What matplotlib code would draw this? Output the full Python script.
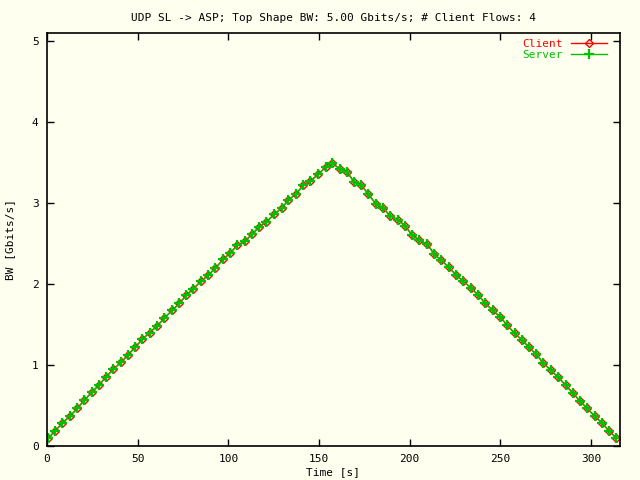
import numpy as np
import matplotlib
matplotlib.use("Agg")
import matplotlib.pyplot as plt

# time [s] and bandwidth [Gbits/s]
time_s = [0.7, 4.4, 8.4, 12.7, 16.7, 20.6, 24.7, 28.7, 32.5, 36.6,
          40.8, 44.8, 48.7, 52.6, 56.6, 60.8, 64.7, 69.1, 73.0, 76.8,
          80.7, 84.9, 88.9, 92.8, 97.2, 100.9, 105.0, 109.4, 113.2, 117.1,
          121.0, 125.4, 129.4, 133.1, 137.4, 141.4, 145.1, 149.6, 153.6, 157.4,
          161.7, 165.6, 169.5, 173.4, 177.2, 181.5, 185.5, 189.4, 193.8, 197.6,
          201.5, 205.4, 209.8, 213.6, 217.5, 221.6, 225.8, 229.6, 234.0, 237.9,
          241.8, 245.7, 250.0, 253.8, 257.9, 262.1, 265.9, 269.8, 273.7, 277.9,
          281.9, 286.0, 290.2, 294.0, 297.9, 302.1, 306.3, 310.2, 314.0]
client_bw = [0.095, 0.185, 0.280, 0.370, 0.465, 0.564, 0.664, 0.752, 0.851, 0.946,
             1.033, 1.126, 1.221, 1.316, 1.400, 1.480, 1.579, 1.674, 1.761, 1.859,
             1.937, 2.032, 2.106, 2.193, 2.304, 2.378, 2.477, 2.530, 2.616, 2.707,
             2.765, 2.860, 2.933, 3.032, 3.110, 3.220, 3.266, 3.352, 3.438, 3.487,
             3.415, 3.376, 3.253, 3.216, 3.107, 2.983, 2.933, 2.836, 2.790, 2.710,
             2.599, 2.537, 2.488, 2.365, 2.291, 2.204, 2.106, 2.032, 1.946, 1.859,
             1.760, 1.674, 1.591, 1.489, 1.390, 1.304, 1.217, 1.131, 1.024, 0.934,
             0.848, 0.749, 0.650, 0.551, 0.465, 0.366, 0.280, 0.181, 0.099]
server_bw = [0.095, 0.185, 0.280, 0.370, 0.465, 0.564, 0.664, 0.752, 0.851, 0.946,
             1.033, 1.126, 1.221, 1.316, 1.400, 1.480, 1.579, 1.674, 1.761, 1.859,
             1.937, 2.032, 2.106, 2.193, 2.304, 2.378, 2.477, 2.530, 2.616, 2.707,
             2.765, 2.860, 2.933, 3.032, 3.110, 3.215, 3.266, 3.352, 3.438, 3.487,
             3.415, 3.376, 3.253, 3.216, 3.107, 2.983, 2.933, 2.836, 2.790, 2.710,
             2.599, 2.537, 2.488, 2.365, 2.291, 2.204, 2.106, 2.032, 1.946, 1.859,
             1.760, 1.674, 1.591, 1.489, 1.390, 1.304, 1.217, 1.131, 1.024, 0.934,
             0.848, 0.749, 0.650, 0.551, 0.465, 0.366, 0.280, 0.181, 0.099]
x_ticks = [0, 50, 100, 150, 200, 250, 300]
y_ticks = [0, 1, 2, 3, 4, 5]

bg = '#fffff0'
red = '#ff0000'
green = '#00c000'
plt.rcParams['font.family'] = 'DejaVu Sans Mono'
plt.rcParams['font.size'] = 8

fig = plt.figure(figsize=(6.4, 4.8), dpi=100, facecolor=bg)
ax = fig.add_axes([47/640, 34/480, 573/640, 413/480], facecolor=bg)

ax.plot(time_s, client_bw, color=red, lw=1, marker='D', ms=4, mfc='none',
        mec=red, mew=1, label='Client')
ax.plot(time_s, server_bw, color=green, lw=1, marker='+', ms=6.5, mew=1.6,
        label='Server')

ax.set_xlim(0, 316)
ax.set_ylim(0, 5.095)
ax.set_xticks(x_ticks)
ax.set_yticks(y_ticks)
ax.tick_params(direction='in', length=5, width=1, top=True, right=True,
               labelsize=8, pad=6, color='black')
for s in ax.spines.values():
    s.set_linewidth(1.2)

ax.set_title('UDP SL -> ASP; Top Shape BW: 5.00 Gbits/s; # Client Flows: 4',
             fontsize=8, pad=8.5)
ax.set_xlabel('Time [s]', labelpad=2)
ax.set_ylabel('BW [Gbits/s]', labelpad=12)

leg = ax.legend(loc='upper right', frameon=False, markerfirst=False,
                handlelength=3.2, handletextpad=0.8, borderaxespad=0,
                borderpad=0, labelspacing=0.05, fontsize=8,
                bbox_to_anchor=((607 - 47) / 573, (446 - 39) / 413))
for txt, col in zip(leg.get_texts(), [red, green]):
    txt.set_color(col)

fig.savefig('out.png', dpi=100, facecolor=bg)
